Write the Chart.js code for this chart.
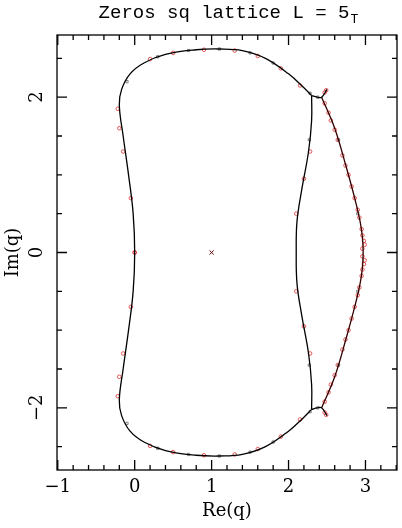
<!DOCTYPE html>
<html><head><meta charset="utf-8">
<script src="https://cdn.jsdelivr.net/npm/chart.js@4"></script>
<style>body{margin:0;background:#fff}#wrap{width:402px;height:528px}</style>
</head><body><div id="wrap"><canvas id="chart"></canvas></div>
<script>
// upper half of each branch, mirrored for the lower half
const outerLeft = [[2.3,2.02],[2.2,2.12],[2.0,2.3],[1.7,2.5],[1.4,2.6],[1.1,2.62],[0.8,2.61],[0.4,2.55],[0.12,2.44],[-0.06,2.3],[-0.17,2.1],[-0.2,1.9],[-0.15,1.5],[-0.08,1.0],[-0.02,0.5],[0,0]];
const innerRight = [[2.3,2.02],[2.3,1.7],[2.26,1.3],[2.17,0.8],[2.11,0.4],[2.1,0]];
const bridge = [[2.3,2.02],[2.37,2.0],[2.43,2.0],[2.5,2.1]];
const outerRight = [[2.43,2.0],[2.6,1.6],[2.75,1.1],[2.86,0.7],[2.93,0.4],[2.96,0.2],[2.97,0]];
const zerosRed = [[-0.22,1.85],[-0.2,1.6],[-0.15,1.3],[-0.05,0.7],[0,0],[0.2,2.49],[0.5,2.57],[0.9,2.61],[1.3,2.6],[1.6,2.53],[1.9,2.37],[2.15,2.15],[2.28,1.3],[2.2,0.95],[2.1,0.5],
  [2.47,1.92],[2.52,1.8],[2.55,1.7],[2.6,1.58],[2.64,1.45],[2.7,1.25],[2.74,1.12],[2.78,1.0],[2.82,0.85],[2.86,0.7],[2.9,0.55],[2.92,0.45],[2.95,0.3],[2.96,0.22],[2.98,0.15],[2.99,0.1],[2.96,0.05],[2.47,2.06],[2.49,2.09]];
const zerosBlack = [[-0.1,2.2],[0.3,2.52],[0.7,2.6],[1.1,2.62],[1.5,2.57],[1.8,2.44],[2.28,2.05],[2.38,2.0],[2.27,1.45],[2.65,1.45],[2.9,0.5]];
const centre = [[1,0]];

const full = a => a.map(([x,y]) => ({x,y})).concat(a.slice(0,-1).reverse().map(([x,y]) => ({x,y:-y})));
const half = a => a.map(([x,y]) => ({x,y}));
const mirror = a => a.map(([x,y]) => ({x,y:-y}));
const both = a => half(a).concat(mirror(a));

const line = (data) => ({data, showLine:true, borderColor:'#000', borderWidth:1.3, pointRadius:0, tension:0.4, fill:false});

const frame = {
  id:'frame',
  afterDraw(c) {
    const {ctx, chartArea:a, scales:{x,y}} = c;
    ctx.save();
    ctx.strokeStyle='#000'; ctx.lineWidth=1.3;
    ctx.strokeRect(a.left,a.top,a.right-a.left,a.bottom-a.top);
    ctx.beginPath();
    for (let v=-1; v<=3.41; v+=0.2) {
      const p=x.getPixelForValue(v), L=Math.abs(v-Math.round(v))<0.01?10:5;
      ctx.moveTo(p,a.bottom); ctx.lineTo(p,a.bottom-L);
      ctx.moveTo(p,a.top); ctx.lineTo(p,a.top+L);
    }
    for (let v=-2.5; v<=2.51; v+=0.5) {
      const p=y.getPixelForValue(v), L=Math.abs(v%2)<0.01?10:5;
      ctx.moveTo(a.left,p); ctx.lineTo(a.left+L,p);
      ctx.moveTo(a.right,p); ctx.lineTo(a.right-L,p);
    }
    ctx.stroke();
    ctx.fillStyle='#000';
    ctx.font='18px "DejaVu Serif"'; ctx.textAlign='center'; ctx.textBaseline='top';
    [-1,0,1,2,3].forEach(v => ctx.fillText(v<0?'\u2212'+(-v):String(v), x.getPixelForValue(v), a.bottom+8));
    ctx.fillText('Re(q)', (a.left+a.right)/2, a.bottom+32);
    [-2,0,2].forEach(v => {
      ctx.save(); ctx.translate(a.left-20, y.getPixelForValue(v)); ctx.rotate(-Math.PI/2);
      ctx.textBaseline='middle'; ctx.fillText(v<0?'\u2212'+(-v):String(v),0,0); ctx.restore();
    });
    ctx.save(); ctx.translate(13,(a.top+a.bottom)/2); ctx.rotate(-Math.PI/2);
    ctx.textBaseline='middle'; ctx.fillText('Im(q)',0,0); ctx.restore();
    ctx.font='19px "Liberation Mono"'; ctx.textAlign='left'; ctx.textBaseline='alphabetic';
    const t='Zeros sq lattice L = 5', w=ctx.measureText(t).width;
    const x0=230-(w+12)/2;
    ctx.fillText(t,x0,18);
    ctx.font='13px "Liberation Mono"'; ctx.fillText('T',x0+w+1,23);
    ctx.restore();
  }
};

new Chart(document.getElementById('chart'), {
  type:'scatter',
  data:{datasets:[
    line(full(outerLeft)), line(full(innerRight)), line(half(bridge)), line(mirror(bridge)),
    {...line(full(outerRight)), borderColor:'#300'},
    {data:both(zerosBlack), pointStyle:'rect', pointRadius:1.6, borderColor:'#666', borderWidth:0.8, backgroundColor:'transparent'},
    {data:both(zerosRed), pointStyle:'circle', pointRadius:1.8, borderColor:'#e03030', borderWidth:0.8, backgroundColor:'transparent'},
    {data:half(centre), pointStyle:'crossRot', pointRadius:3, borderColor:'#600', borderWidth:1}
  ]},
  options:{
    responsive:true, maintainAspectRatio:false, animation:false,
    layout:{padding:{left:57,right:2,top:35,bottom:58}},
    plugins:{legend:{display:false}, tooltip:{enabled:false}},
    scales:{
      x:{type:'linear', min:-1.01, max:3.41, display:false},
      y:{type:'linear', min:-2.8, max:2.8, display:false}
    }
  },
  plugins:[frame]
});
</script></body></html>
